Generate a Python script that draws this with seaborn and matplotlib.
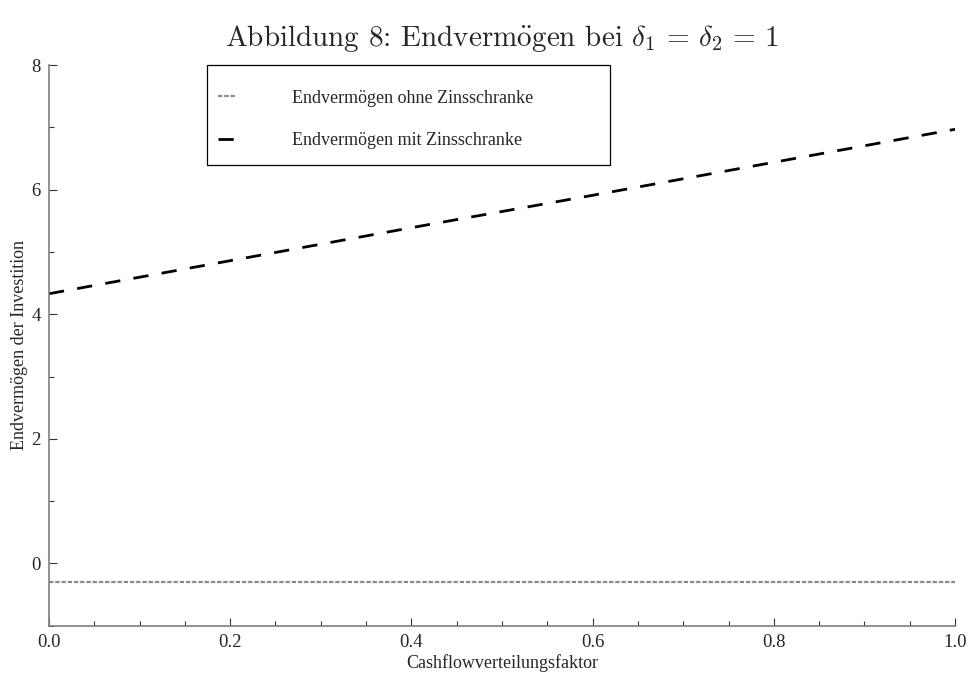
import numpy as np
import pandas as pd
import matplotlib
matplotlib.use("Agg")
import matplotlib.pyplot as plt
import seaborn as sns
from matplotlib.ticker import MultipleLocator, FormatStrFormatter
from matplotlib.patches import Rectangle

# values
faktor = [0.0, 0.2, 0.4, 0.6, 0.8, 1.0]
ohne_zs = [-0.3, -0.3, -0.3, -0.3, -0.3, -0.3]
mit_zs = [4.33, 4.86, 5.39, 5.91, 6.44, 6.97]
labels = ["Endvermögen ohne Zinsschranke", "Endvermögen mit Zinsschranke"]

df = pd.DataFrame({
    "x": faktor * 2,
    "y": ohne_zs + mit_zs,
    "Serie": [labels[0]] * len(faktor) + [labels[1]] * len(faktor),
})

sns.set_style("ticks")
plt.rcParams["font.family"] = ["Liberation Serif", "DejaVu Serif"]
plt.rcParams["mathtext.fontset"] = "cm"

fig = plt.figure(figsize=(9.68, 6.77), dpi=100)
ax = fig.add_axes([0.0506, 0.0758, 0.936, 0.828])

sns.lineplot(data=df, x="x", y="y", hue="Serie", style="Serie",
             palette=["#8c8c8c", "black"], dashes=[(2.0, 0.8), (5.5, 4.8)],
             ax=ax, legend=False)
lines = ax.get_lines()
lines[0].set_linewidth(1.6)
lines[1].set_linewidth(2.0)

ax.set_xlim(0, 1)
ax.set_ylim(-1, 8)
ax.xaxis.set_major_locator(MultipleLocator(0.2))
ax.xaxis.set_minor_locator(MultipleLocator(0.05))
ax.yaxis.set_major_locator(MultipleLocator(2))
ax.yaxis.set_minor_locator(MultipleLocator(1))
ax.xaxis.set_major_formatter(FormatStrFormatter("%.1f"))
ax.tick_params(which="both", direction="in", color="#333333", width=0.8,
               labelsize=13.5, pad=6)
ax.tick_params(which="major", length=6)
ax.tick_params(which="minor", length=3.5)

for s in ["top", "right"]:
    ax.spines[s].set_visible(False)
for s in ["left", "bottom"]:
    ax.spines[s].set_color("#7f7f7f")
    ax.spines[s].set_linewidth(1.2)

ax.set_xlabel("Cashflowverteilungsfaktor", fontsize=13, labelpad=2)
ax.set_ylabel("Endvermögen der Investition", fontsize=13, labelpad=2)

ax.set_title(r"Abbildung 8: Endverm$\mathrm{\ddot{o}}$gen bei "
             r"$\delta_1 \,=\, \delta_2 \,=\, 1$",
             fontsize=21, family=["cmr10", "DejaVu Serif"], pad=14)

# legend box
ax.add_patch(Rectangle((0.1744, 0.822), 0.445, 0.178, transform=ax.transAxes,
                       facecolor="white", edgecolor="black", linewidth=0.9,
                       clip_on=False, zorder=4))
leg = ax.legend(lines, labels, loc="upper left",
                bbox_to_anchor=(0.1865, 0.956), fontsize=13,
                frameon=False, handlelength=1.0, handletextpad=3.1,
                borderpad=0, labelspacing=1.4, borderaxespad=0)
leg.set_zorder(5)

fig.savefig("out.png", dpi=100)
